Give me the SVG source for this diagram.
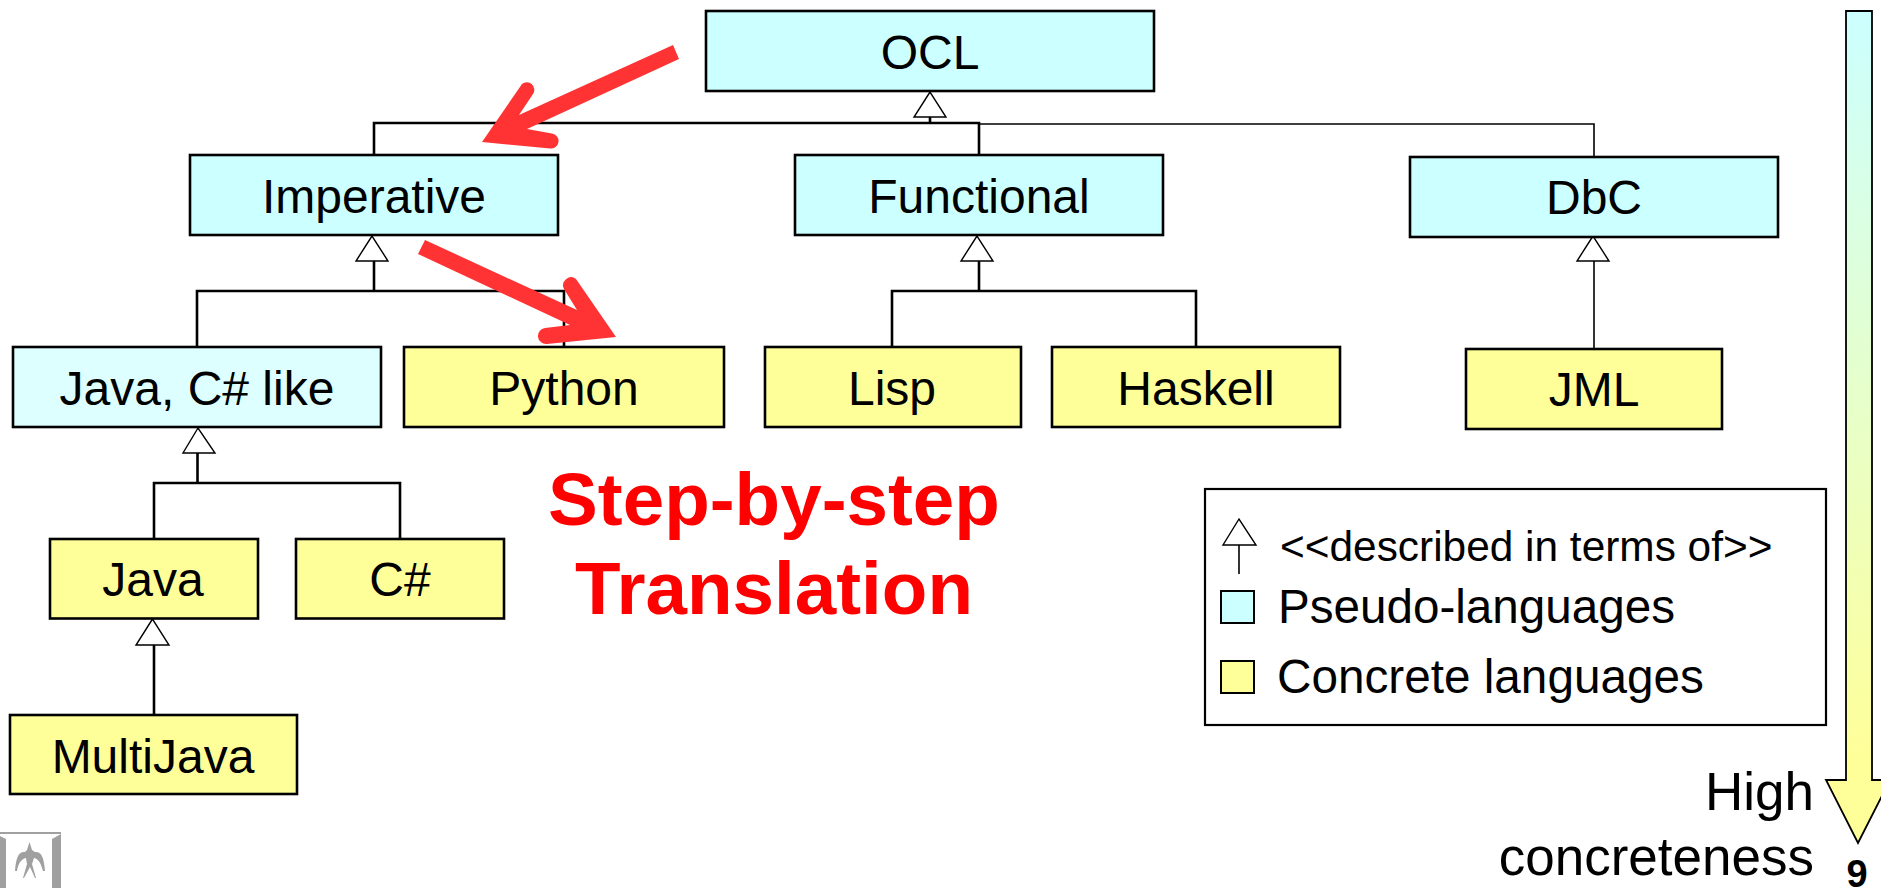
<svg xmlns="http://www.w3.org/2000/svg" width="1881" height="888" viewBox="0 0 1881 888">
<style>
text{font-family:"Liberation Sans",Arial,sans-serif;font-size:48px;fill:#000}
.l{text-anchor:middle}
.b{stroke:#000;stroke-width:2.6}
.p{fill:#ccffff}.q{fill:#ddffff}.c{fill:#ffff99}
.t{fill:#fff;stroke:#000;stroke-width:1.4}
.w{fill:none;stroke:#000;stroke-width:2.6}
.n{fill:none;stroke:#000;stroke-width:1.6}
.h{font-weight:bold;font-size:74.6px;fill:#ff0000;text-anchor:middle}
.e{font-size:53px;text-anchor:end}
</style>
<defs>
<linearGradient id="grad" x1="0" y1="0" x2="0" y2="1">
<stop offset="0" stop-color="#ccffff"/><stop offset="0.9" stop-color="#ffff99"/><stop offset="1" stop-color="#ffff99"/>
</linearGradient>
</defs>
<rect width="1881" height="888" fill="#fff"/>
<g id="connectors">
<path class="n" d="M979 124H1594V156"/>
<path class="w" d="M374 155V123H979V155M930 117V124"/>
<path class="w" d="M197 347V291H564V347M374 261V291"/>
<path class="w" d="M892 347V291H1196V347M979 261V291"/>
<path class="n" d="M1594 261V349"/>
<path class="w" d="M154 539V483H400V539M197.5 453V483"/>
<path class="w" d="M154 645V715"/>
<polygon class="t" points="930,92 914,117 946,117"/>
<polygon class="t" points="372,236 356,261 388,261"/>
<polygon class="t" points="977,236 961,261 993,261"/>
<polygon class="t" points="1593,236 1577,261 1609,261"/>
<polygon class="t" points="198,428 183,453 215,453"/>
<polygon class="t" points="152.500,619 136,645 169,645"/>
</g>
<g id="node-ocl"><rect class="p b" x="706" y="11" width="448" height="80"/><text class="l" x="930" y="69">OCL</text></g>
<g id="node-imperative"><rect class="p b" x="190" y="155" width="368" height="80"/><text class="l" x="374" y="213">Imperative</text></g>
<g id="node-functional"><rect class="p b" x="795" y="155" width="368" height="80"/><text class="l" x="979" y="213">Functional</text></g>
<g id="node-dbc"><rect class="p b" x="1410" y="157" width="368" height="80"/><text class="l" x="1594" y="214">DbC</text></g>
<g id="node-javacs"><rect class="q b" x="13" y="347" width="368" height="80"/><text class="l" x="197" y="405">Java, C# like</text></g>
<g id="node-python"><rect class="c b" x="404" y="347" width="320" height="80"/><text class="l" x="564" y="405">Python</text></g>
<g id="node-lisp"><rect class="c b" x="765" y="347" width="256" height="80"/><text class="l" x="892" y="405">Lisp</text></g>
<g id="node-haskell"><rect class="c b" x="1052" y="347" width="288" height="80"/><text class="l" x="1196" y="405">Haskell</text></g>
<g id="node-jml"><rect class="c b" x="1466" y="349" width="256" height="80"/><text class="l" x="1594" y="406">JML</text></g>
<g id="node-java"><rect class="c b" x="50" y="539" width="208" height="79.500"/><text class="l" x="153" y="596">Java</text></g>
<g id="node-csharp"><rect class="c b" x="296" y="539" width="208" height="79.500"/><text class="l" x="400" y="596">C#</text></g>
<g id="node-multijava"><rect class="c b" x="10" y="715" width="287" height="79"/><text class="l" x="153" y="773">MultiJava</text></g>
<g id="red-arrows" fill="#ff3333">
<path d="M673 45L519 115L533 94A7.5 7.5 0 0 0 522 84L482 142L550 148.500A7.5 7.5 0 0 0 552 133.500L527 129L679 59Z"/>
<path d="M425 240L577 310L564 289A8 8 0 0 1 576 279L616 337L547 344A8 8 0 0 1 545 328L570 325L418 254Z"/>
</g>
<g id="caption">
<text class="h" x="774" y="525">Step-by-step</text>
<text class="h" x="774" y="614">Translation</text>
</g>
<g id="legend">
<rect x="1205" y="489" width="621" height="236" fill="#fff" stroke="#000" stroke-width="2.2"/>
<polygon class="t" points="1239,519 1223,545 1256,545"/>
<path class="n" d="M1239 545V574"/>
<text x="1280" y="561" style="font-size:42.4px">&lt;&lt;described in terms of&gt;&gt;</text>
<rect class="p" x="1221" y="591" width="33" height="32" stroke="#000" stroke-width="2"/>
<text x="1278" y="623" style="font-size:47.6px">Pseudo-languages</text>
<rect class="c" x="1221" y="661" width="33" height="32" stroke="#000" stroke-width="2"/>
<text x="1277" y="693" style="font-size:47.7px">Concrete languages</text>
</g>
<g id="concreteness">
<polygon points="1846,11 1872,11 1872,780 1890,780 1858,843 1826,780 1846,780" fill="url(#grad)" stroke="#000" stroke-width="1.8"/>
<text class="e" x="1814" y="810">High</text>
<text class="e" x="1814" y="875">concreteness</text>
</g>
<text x="1857" y="887" text-anchor="middle" style="font-weight:bold;font-size:38px">9</text>
<g id="logo" fill="#a0a0a0">
<path d="M0 832H61V834H0Z"/>
<path d="M0 836L6 839V888H0Z"/>
<path d="M61 834V888H52V839Z"/>
<path d="M29.500 842L32 850L35 852C41 851 44 857 45 871L43 871C41 864 39 859 34 858L32 864L36 878L35 878L30 867L24 878L23 878L27 864L26 858C21 859 18 864 17 871L15 871C16 857 19 851 25 852L27 850Z"/>
</g>
</svg>
